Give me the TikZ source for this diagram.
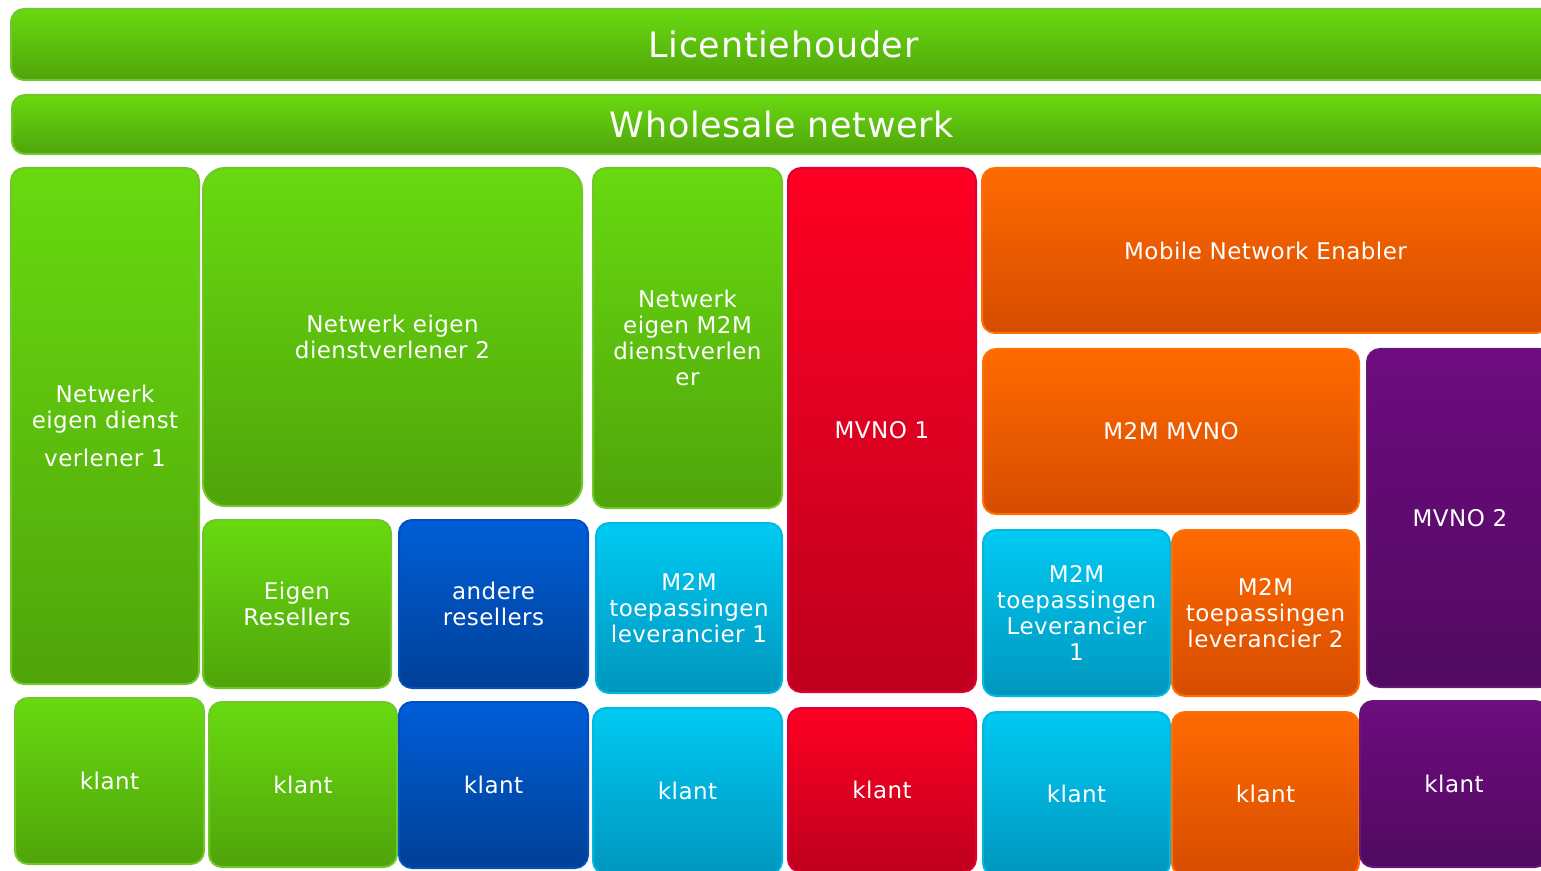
\documentclass[tikz,border=0pt]{standalone}
\usepackage{fontspec}
\setmainfont{DejaVu Sans}[LetterSpace=2]
\definecolor{green_top}{RGB}{104,218,16}
\definecolor{green_bot}{RGB}{80,164,10}
\definecolor{green_line}{RGB}{112,198,42}
\definecolor{blue_top}{RGB}{0,94,216}
\definecolor{blue_bot}{RGB}{0,64,150}
\definecolor{blue_line}{RGB}{0,80,190}
\definecolor{cyan_top}{RGB}{0,202,242}
\definecolor{cyan_bot}{RGB}{0,150,190}
\definecolor{cyan_line}{RGB}{0,185,225}
\definecolor{red_top}{RGB}{255,0,35}
\definecolor{red_bot}{RGB}{190,0,30}
\definecolor{red_line}{RGB}{222,0,52}
\definecolor{orange_top}{RGB}{255,106,0}
\definecolor{orange_bot}{RGB}{214,76,0}
\definecolor{orange_line}{RGB}{255,112,0}
\definecolor{purple_top}{RGB}{110,12,128}
\definecolor{purple_bot}{RGB}{80,10,95}
\definecolor{purple_line}{RGB}{102,22,120}

\begin{document}
\begin{tikzpicture}[x=0.5pt,y=-0.5pt]
    \tikzstyle{box}=[rounded corners=6.5pt, line width=1pt, text=white, align=center, inner sep=2pt, font=\fontsize{11.5}{13}\selectfont]
    \tikzstyle{gbox}=[box, draw=green_line, top color=green_top, bottom color=green_bot]
    \tikzstyle{bbox}=[box, draw=blue_line, top color=blue_top, bottom color=blue_bot]
    \tikzstyle{cbox}=[box, draw=cyan_line, top color=cyan_top, bottom color=cyan_bot]
    \tikzstyle{rbox}=[box, draw=red_line, top color=red_top, bottom color=red_bot]
    \tikzstyle{obox}=[box, draw=orange_line, top color=orange_top, bottom color=orange_bot]
    \tikzstyle{pbox}=[box, draw=purple_line, top color=purple_top, bottom color=purple_bot]
    \tikzstyle{title}=[font=\fontsize{17.5}{20}\selectfont]

    \clip (0,0) rectangle (1541,871);

    % lagen bovenaan
    \node[gbox,title, minimum width=772.5pt, minimum height=35.5pt] (lic) at (783.5,44.5)  {Licentiehouder};
    \node[gbox,title, minimum width=770pt,   minimum height=29.5pt] (whl) at (782,124.5)   {Wholesale netwerk};

    % dienstverleners
    \node[gbox, minimum width=94pt,    minimum height=258pt]  (ned1)  at (105,426)     {Netwerk\\eigen dienst\\[6pt]verlener 1};
    \node[gbox, rounded corners=11pt, minimum width=189.5pt, minimum height=169pt] (ned2) at (392.5,337) {Netwerk eigen\\dienstverlener 2};
    \node[gbox, minimum width=94.5pt,  minimum height=170pt]  (nem2m) at (687.5,338)   {Netwerk\\eigen M2M\\dienstverlen\\er};
    \node[rbox, minimum width=94pt,    minimum height=262pt]  (mvno1) at (882,430)     {MVNO 1};
    \node[obox, minimum width=283.5pt, minimum height=82.5pt] (mne)   at (1265.5,250.5) {Mobile Network Enabler};
    \node[obox, minimum width=188pt,   minimum height=82.5pt] (m2mv)  at (1171,431.5)  {M2M MVNO};
    \node[pbox, minimum width=93pt,    minimum height=169pt]  (mvno2) at (1460,518)    {MVNO 2};

    % resellers en leveranciers
    \node[gbox, minimum width=94pt,   minimum height=84pt] (eres) at (297,604)    {Eigen\\Resellers};
    \node[bbox, minimum width=94.5pt, minimum height=84pt] (ares) at (493.5,604)  {andere\\resellers};
    \node[cbox, minimum width=93pt,   minimum height=85pt] (lev1) at (689,608)    {M2M\\toepassingen\\leverancier 1};
    \node[cbox, minimum width=93.5pt, minimum height=83pt] (lev2) at (1076.5,613) {M2M\\toepassingen\\Leverancier\\1};
    \node[obox, minimum width=93.5pt, minimum height=83pt] (lev3) at (1265.5,613) {M2M\\toepassingen\\leverancier 2};

    % klanten
    \node[gbox, minimum width=94.5pt, minimum height=83pt] (k1) at (109.5,781)  {klant};
    \node[gbox, minimum width=94pt,   minimum height=82.5pt] (k2) at (303,784.5) {klant};
    \node[bbox, minimum width=94.5pt, minimum height=83pt] (k3) at (493.5,785)  {klant};
    \node[cbox, minimum width=94.5pt, minimum height=83pt] (k4) at (687.5,791)  {klant};
    \node[rbox, minimum width=94pt,   minimum height=82pt] (k5) at (882,790)    {klant};
    \node[cbox, minimum width=93.5pt, minimum height=82pt] (k6) at (1076.5,794) {klant};
    \node[obox, minimum width=93.5pt, minimum height=82pt] (k7) at (1265.5,794) {klant};
    \node[pbox, minimum width=94pt,   minimum height=83pt] (k8) at (1454,784)   {klant};
\end{tikzpicture}
\end{document}
